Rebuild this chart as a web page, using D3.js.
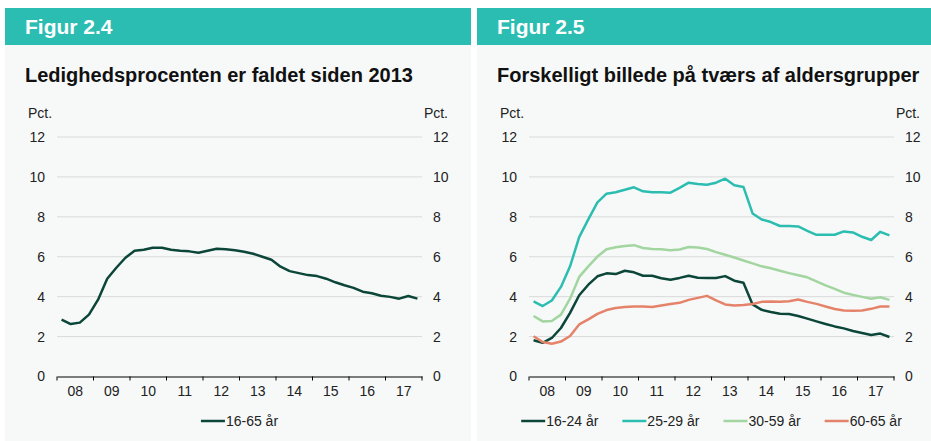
<!DOCTYPE html>
<html>
<head>
<meta charset="utf-8">
<script src="https://cdn.jsdelivr.net/npm/d3@7"></script>
<style>
  body { margin: 0; background: #ffffff; }
  svg { display: block; font-family: "Liberation Sans", Arial, sans-serif; }
</style>
</head>
<body>
<svg id="chart" width="931" height="441"></svg>
<script>
// ---------- data (kvartaler 2008K1 - 2017K4) ----------
const years = ["08", "09", "10", "11", "12", "13", "14", "15", "16", "17"];
const quarters = years.flatMap(y => [1, 2, 3, 4].map(q => y + "K" + q));
const yTicks = [0, 2, 4, 6, 8, 10, 12];

const total1665 = [2.85, 2.63, 2.7, 3.1, 3.85, 4.9, 5.45, 5.95, 6.3, 6.35,
  6.45, 6.45, 6.35, 6.3, 6.27, 6.2, 6.3, 6.4, 6.38, 6.33,
  6.25, 6.15, 6.0, 5.85, 5.5, 5.28, 5.18, 5.08, 5.03, 4.9,
  4.72, 4.57, 4.44, 4.25, 4.17, 4.05, 3.99, 3.9, 4.03, 3.9];

const age1624 = [1.82, 1.69, 1.93, 2.43, 3.19, 4.07, 4.6, 5.02, 5.17, 5.13,
  5.3, 5.22, 5.05, 5.05, 4.92, 4.85, 4.94, 5.05, 4.95, 4.94,
  4.94, 5.03, 4.8, 4.7, 3.61, 3.34, 3.23, 3.14, 3.13, 3.03,
  2.9, 2.76, 2.63, 2.51, 2.41, 2.28, 2.18, 2.08, 2.15, 1.98];

const age2529 = [3.76, 3.53, 3.81, 4.49, 5.52, 6.98, 7.87, 8.72, 9.16, 9.23,
  9.36, 9.48, 9.28, 9.23, 9.23, 9.21, 9.45, 9.71, 9.65, 9.61,
  9.71, 9.91, 9.58, 9.5, 8.17, 7.87, 7.74, 7.54, 7.54, 7.52,
  7.3, 7.1, 7.1, 7.1, 7.27, 7.22, 7.0, 6.84, 7.25, 7.07];

const age3059 = [3.03, 2.76, 2.78, 3.1, 3.9, 4.99, 5.52, 6.01, 6.38, 6.48,
  6.54, 6.58, 6.44, 6.39, 6.38, 6.33, 6.36, 6.49, 6.46, 6.39,
  6.23, 6.1, 5.96, 5.81, 5.67, 5.52, 5.42, 5.3, 5.18, 5.07,
  4.97, 4.77, 4.57, 4.39, 4.2, 4.09, 3.99, 3.9, 3.97, 3.84];

const age6065 = [2.02, 1.73, 1.64, 1.75, 2.03, 2.61, 2.86, 3.14, 3.33, 3.43,
  3.48, 3.51, 3.51, 3.48, 3.56, 3.63, 3.69, 3.84, 3.94, 4.04,
  3.81, 3.61, 3.56, 3.58, 3.63, 3.74, 3.76, 3.74, 3.77, 3.86,
  3.74, 3.64, 3.51, 3.38, 3.31, 3.29, 3.31, 3.39, 3.51, 3.51];

const colors = {
  dark: "#0b4638",
  teal: "#2cbdb1",
  light: "#a2d59f",
  salmon: "#e5836a"
};

const panels = [
  {
    x0: 5, x1: 471, plotL: 57, plotR: 422,
    fig: "Figur 2.4",
    title: "Ledighedsprocenten er faldet siden 2013",
    series: [{ name: "16-65 år", values: total1665, color: colors.dark }]
  },
  {
    x0: 477, x1: 931, plotL: 529, plotR: 894,
    fig: "Figur 2.5",
    title: "Forskelligt billede på tværs af aldersgrupper",
    series: [
      { name: "16-24 år", values: age1624, color: colors.dark },
      { name: "25-29 år", values: age2529, color: colors.teal },
      { name: "30-59 år", values: age3059, color: colors.light },
      { name: "60-65 år", values: age6065, color: colors.salmon }
    ]
  }
];

const svg = d3.select("#chart");
const plotTop = 137, plotBottom = 376.5;

function drawPanel(p) {
  const g = svg.append("g");

  // baggrund og overskriftsbjælke
  g.append("rect").attr("x", p.x0).attr("y", 44).attr("width", p.x1 - p.x0).attr("height", 397)
    .attr("fill", "#f7f9f9");
  g.append("rect").attr("x", p.x0).attr("y", 8).attr("width", p.x1 - p.x0).attr("height", 37)
    .attr("fill", "#2cbdb2");
  g.append("text").attr("x", p.x0 + 20).attr("y", 34)
    .attr("fill", "#ffffff").attr("font-size", 21).attr("font-weight", "bold").text(p.fig);
  g.append("text").attr("x", p.x0 + 20).attr("y", 82)
    .attr("fill", "#111").attr("font-size", 20).attr("font-weight", "bold").text(p.title);

  // scales
  const x = d3.scaleBand().domain(quarters).range([p.plotL, p.plotR]);
  const xYear = d3.scaleBand().domain(years).range([p.plotL, p.plotR]);
  const y = d3.scaleLinear().domain([0, 12]).range([plotBottom, plotTop]);

  // gridlines
  g.append("g").selectAll("line")
    .data(yTicks.filter(d => d > 0))
    .join("line")
    .attr("x1", p.plotL).attr("x2", p.plotR)
    .attr("y1", d => y(d)).attr("y2", d => y(d))
    .attr("stroke", "#d9d9d9").attr("stroke-width", 1);

  // y-akser venstre og højre
  const yl = g.append("g").attr("transform", `translate(${p.plotL},0)`)
    .call(d3.axisLeft(y).tickValues(yTicks).tickSize(0).tickPadding(12));
  const yr = g.append("g").attr("transform", `translate(${p.plotR},0)`)
    .call(d3.axisRight(y).tickValues(yTicks).tickSize(0).tickPadding(11));
  [yl, yr].forEach(a => {
    a.select(".domain").remove();
    a.selectAll("text").attr("font-size", 14).attr("fill", "#222")
      .attr("font-family", "Liberation Sans, Arial, sans-serif");
  });

  g.append("text").attr("x", p.plotL - 29).attr("y", 118)
    .attr("font-size", 14).attr("fill", "#222").text("Pct.");
  g.append("text").attr("x", p.plotR + 26).attr("y", 118).attr("text-anchor", "end")
    .attr("font-size", 14).attr("fill", "#222").text("Pct.");

  // x-akse
  const xa = g.append("g").attr("transform", `translate(0,${plotBottom})`)
    .call(d3.axisBottom(xYear).tickSize(0).tickPadding(10));
  xa.select(".domain").attr("stroke", "#000").attr("stroke-width", 1.2);
  xa.selectAll("text").attr("font-size", 14).attr("fill", "#222")
    .attr("font-family", "Liberation Sans, Arial, sans-serif");

  const bounds = years.map(d => xYear(d)).concat([xYear.range()[1]]);
  g.append("g").selectAll("line")
    .data(bounds)
    .join("line")
    .attr("x1", d => d).attr("x2", d => d)
    .attr("y1", plotBottom).attr("y2", plotBottom + 4)
    .attr("stroke", "#000").attr("stroke-width", 1);

  // linjer
  const line = d3.line()
    .x((d, i) => x(quarters[i]) + x.bandwidth() / 2)
    .y(d => y(d));

  g.append("g").selectAll("path")
    .data(p.series)
    .join("path")
    .attr("d", s => line(s.values))
    .attr("fill", "none")
    .attr("stroke", s => s.color)
    .attr("stroke-width", 2.5)
    .attr("stroke-linejoin", "round");

  // legend
  const leg = g.append("g");
  const items = leg.selectAll("g").data(p.series).join("g");
  items.append("line").attr("x1", 0).attr("x2", 24).attr("y1", 0).attr("y2", 0)
    .attr("stroke", s => s.color).attr("stroke-width", 2.5);
  items.append("text").attr("x", 25).attr("dy", "0.35em")
    .attr("font-size", 14).attr("fill", "#222").text(s => s.name);

  let pos = 0;
  const offsets = [];
  items.each(function () {
    offsets.push(pos);
    const w = 25 + d3.select(this).select("text").node().getComputedTextLength();
    pos += w + 24;
  });
  const totalW = pos - 24;
  const start = (p.plotL + p.plotR) / 2 - totalW / 2;
  items.attr("transform", (d, i) => `translate(${start + offsets[i]},421)`);
}

panels.forEach(drawPanel);
</script>
</body>
</html>
